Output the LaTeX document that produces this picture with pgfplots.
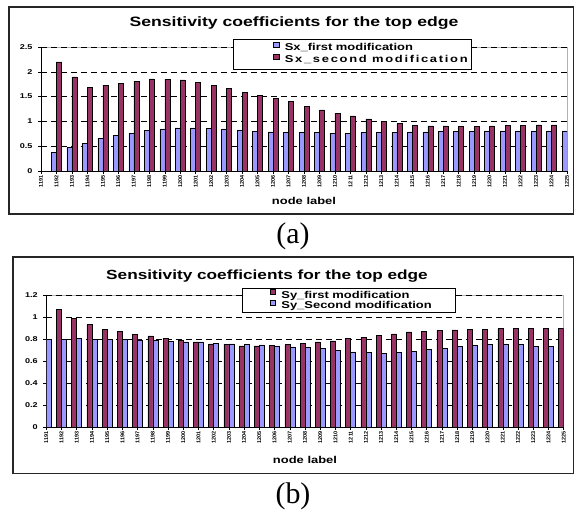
\documentclass[border=0pt]{standalone}
\usepackage{pgfplots}
\pgfplotsset{compat=1.18}
\usepackage{fontspec}
\setmainfont{Liberation Sans}
\newfontfamily\cf[FakeStretch=1.3]{Liberation Sans}
\newfontfamily\cfls[FakeStretch=1.3,LetterSpace=17]{Liberation Sans}
\newfontfamily\tf{Liberation Sans}
\newfontfamily\capfont{Liberation Serif}
\definecolor{bblue}{RGB}{153,153,255}
\definecolor{mroon}{RGB}{153,51,102}

\pgfplotsset{
  sensaxis/.style={
    scale only axis, ybar=0pt, bar width=5bp,
    axis lines=left, axis line style={-, black, line width=0.6bp},
    axis background/.style={draw=gray!60, line width=0.6bp},
    xmin=1191, xmax=1225, xtick={1191,...,1225},
    ymin=0,
    tick align=outside, major tick length=3bp,
    tick style={black, line width=0.5bp},
    ymajorgrids, grid style={black, dash pattern=on 6bp off 4bp, line width=0.5bp},
    /pgf/number format/assume math mode=true,
    /pgf/number format/1000 sep={},
    xticklabel style={rotate=90, anchor=east, font=\tf\bfseries\fontsize{5.5}{6}\selectfont, inner sep=1bp},
    yticklabel style={font=\cf\bfseries\fontsize{7}{8}\selectfont, xshift=-2bp},
    xlabel={node label},
    xlabel style={font=\cf\bfseries\fontsize{10}{12}\selectfont, anchor=center},
    legend cell align=left,
    legend style={font=\cf\bfseries\fontsize{10}{12}\selectfont, draw=black, line width=0.6bp, fill=white, anchor=north east, inner xsep=4bp, row sep=0pt, /tikz/every odd column/.append style={column sep=5.5bp}},
  }
}

\begin{document}
\begin{tikzpicture}
% ---------- (a) ----------
\draw[line width=1.2bp, black!85] (9bp,298bp) rectangle (573.4bp,505bp);
\begin{axis}[sensaxis, at={(41bp,341bp)}, anchor=south west, width=526bp, height=124bp,
  ymax=2.5, ytick={0,0.5,1,1.5,2,2.5},
  xlabel style={at={(axis description cs:0.5,-0.242)}},
  legend style={at={(0.8194,1.0685)}, inner ysep=3.5bp, nodes={inner xsep=0pt, inner ysep=0pt, text height=7.6bp, text depth=3.1bp}},
  legend image code/.code={\path (-36bp,0); \draw[#1] (0,0.9bp) rectangle (5.4bp,5.9bp);},
  ]
\addplot[fill=bblue, draw=black, line width=0.5bp] table[row sep=\\] {
x y\\
1192 0.375\\ 1193 0.48\\ 1194 0.56\\ 1195 0.66\\ 1196 0.725\\ 1197 0.76\\ 1198 0.82\\
1199 0.85\\ 1200 0.87\\ 1201 0.87\\ 1202 0.855\\ 1203 0.85\\ 1204 0.83\\ 1205 0.80\\
1206 0.79\\ 1207 0.78\\ 1208 0.78\\ 1209 0.78\\ 1210 0.765\\ 1211 0.765\\ 1212 0.78\\
1213 0.78\\ 1214 0.78\\ 1215 0.79\\ 1216 0.79\\ 1217 0.80\\ 1218 0.80\\ 1219 0.80\\
1220 0.81\\ 1221 0.81\\ 1222 0.81\\ 1223 0.81\\ 1224 0.81\\ 1225 0.81\\
};
\addlegendentry{Sx\_first modification}
\addplot[fill=mroon, draw=black, line width=0.5bp] table[row sep=\\] {
x y\\
1192 2.20\\ 1193 1.90\\ 1194 1.68\\ 1195 1.73\\ 1196 1.76\\ 1197 1.81\\ 1198 1.855\\
1199 1.85\\ 1200 1.835\\ 1201 1.78\\ 1202 1.73\\ 1203 1.66\\ 1204 1.59\\ 1205 1.53\\
1206 1.47\\ 1207 1.405\\ 1208 1.31\\ 1209 1.23\\ 1210 1.165\\ 1211 1.11\\ 1212 1.05\\
1213 1.00\\ 1214 0.955\\ 1215 0.92\\ 1216 0.91\\ 1217 0.91\\ 1218 0.90\\ 1219 0.90\\
1220 0.91\\ 1221 0.92\\ 1222 0.92\\ 1223 0.93\\ 1224 0.93\\
};
\addlegendentry{{\cfls Sx\_second modification}}
\end{axis}
\node[font=\cf\bfseries\fontsize{13.6}{16}\selectfont, anchor=base] at (294bp,485bp) {Sensitivity coefficients for the top edge};
\node[inner sep=0pt] at (293bp,275.5bp) {\capfont\fontsize{30}{34}\selectfont (a)};

% ---------- (b) ----------
\draw[line width=1.2bp, black!85] (13bp,38.3bp) rectangle (573.4bp,255bp);
\begin{axis}[sensaxis, at={(46.3bp,85bp)}, anchor=south west, width=517.4bp, height=131.7bp,
  ymax=1.2, ytick={0,0.2,0.4,0.6,0.8,1,1.2},
  xlabel style={at={(axis description cs:0.5,-0.25)}},
  legend style={at={(0.792,1.0554)}, inner ysep=1.1bp, nodes={inner xsep=0pt, inner ysep=0pt, text height=7.2bp, text depth=2.2bp}},
  legend image code/.code={\path (-24bp,0); \draw[#1] (0,0.9bp) rectangle (5.4bp,5.9bp);},
  ]
\addplot[fill=mroon, draw=black, line width=0.5bp] table[row sep=\\] {
x y\\
1192 1.07\\ 1193 0.99\\ 1194 0.933\\ 1195 0.89\\ 1196 0.87\\ 1197 0.842\\ 1198 0.83\\
1199 0.81\\ 1200 0.79\\ 1201 0.775\\ 1202 0.757\\ 1203 0.754\\ 1204 0.74\\ 1205 0.74\\
1206 0.745\\ 1207 0.75\\ 1208 0.763\\ 1209 0.775\\ 1210 0.784\\ 1211 0.805\\ 1212 0.82\\
1213 0.836\\ 1214 0.848\\ 1215 0.866\\ 1216 0.872\\ 1217 0.88\\ 1218 0.885\\ 1219 0.89\\
1220 0.89\\ 1221 0.897\\ 1222 0.897\\ 1223 0.897\\ 1224 0.897\\ 1225 0.897\\
};
\addlegendentry{Sy\_first modification}
\addplot[fill=bblue, draw=black, line width=0.5bp] table[row sep=\\] {
x y\\
1191 0.80\\ 1192 0.80\\ 1193 0.805\\ 1194 0.80\\ 1195 0.80\\ 1196 0.80\\ 1197 0.793\\
1198 0.787\\ 1199 0.78\\ 1200 0.775\\ 1201 0.775\\ 1202 0.763\\ 1203 0.757\\ 1204 0.754\\
1205 0.748\\ 1206 0.74\\ 1207 0.73\\ 1208 0.723\\ 1209 0.714\\ 1210 0.70\\ 1211 0.684\\
1212 0.68\\ 1213 0.672\\ 1214 0.68\\ 1215 0.69\\ 1216 0.708\\ 1217 0.717\\ 1218 0.735\\
1219 0.745\\ 1220 0.754\\ 1221 0.75\\ 1222 0.75\\ 1223 0.735\\ 1224 0.735\\
};
\addlegendentry{Sy\_Second modification\hspace*{20bp}}
\end{axis}
\node[font=\cf\bfseries\fontsize{13.3}{16}\selectfont, anchor=base] at (267bp,232.7bp) {Sensitivity coefficients for the top edge};
\node[inner sep=0pt] at (293bp,15.5bp) {\capfont\fontsize{30}{34}\selectfont (b)};

\pgfresetboundingbox
\useasboundingbox (0,0) rectangle (574bp,512bp);
\end{tikzpicture}
\end{document}
